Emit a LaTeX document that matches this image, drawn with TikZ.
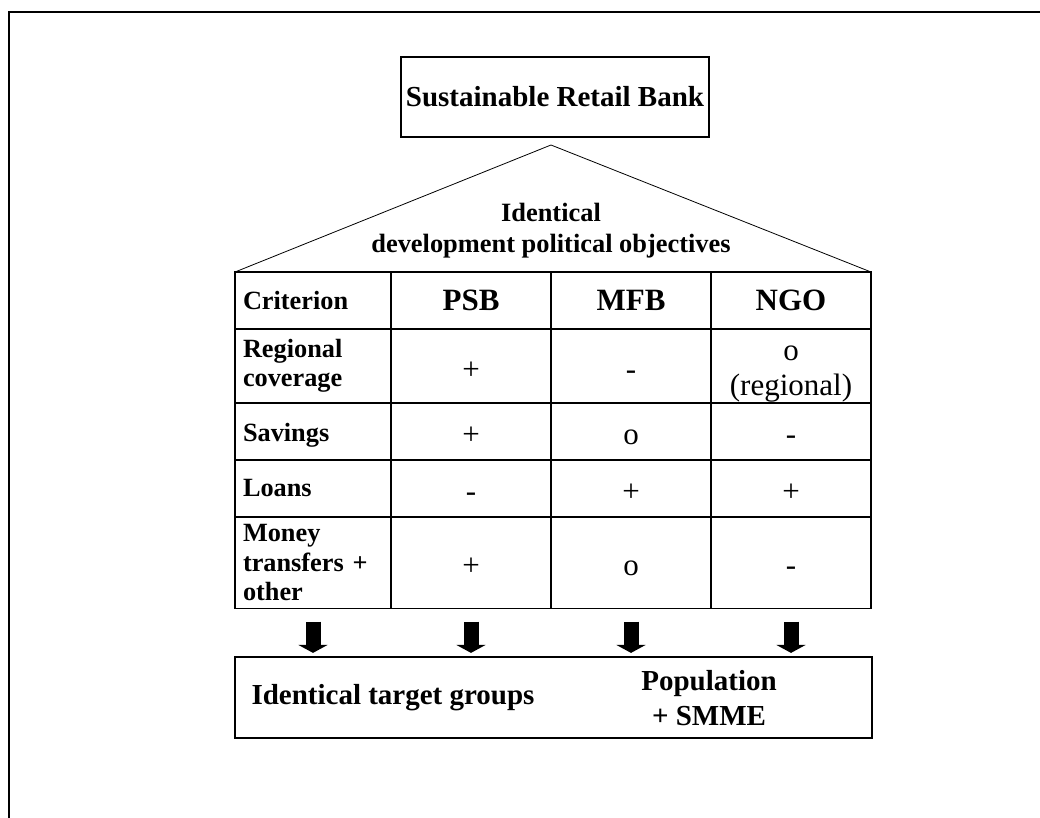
\documentclass[tikz,border=0pt]{standalone}
\usepackage{fontspec}
\setmainfont{Liberation Serif}
\usetikzlibrary{arrows.meta,positioning}

\begin{document}
\begin{tikzpicture}[x=1pt, y=-1pt, node distance=0pt,
  box/.style={draw, line width=1.2pt, inner sep=0pt},
  cell/.style={draw, line width=1.8pt, inner sep=0pt, outer sep=0pt, minimum width=160pt},
  labcell/.style={cell, minimum width=0pt, inner xsep=8pt, text width=140pt, align=left,
    font=\fontsize{26.3}{29.5}\selectfont\bfseries},
  headcell/.style={cell, font=\fontsize{31}{35}\selectfont\bfseries},
  valcell/.style={cell, align=center, font=\fontsize{31}{35}\selectfont,
    text height=28pt, text depth=2pt},
  downarrow/.style={-{Triangle[width=29pt, length=8pt]}, line width=15pt,
    shorten <=13pt, shorten >=3.5pt}]
  \useasboundingbox (0,0) rectangle (1040,818);
  \draw[line width=2pt] (9,818) -- (9,12) -- (1040,12);

  \node[box, minimum width=308pt, minimum height=80pt,
    font=\fontsize{29}{35}\selectfont\bfseries] (bank) at (555,97) {Sustainable Retail Bank};

  % table
  \node[labcell, minimum height=57pt, anchor=north west] (crit) at (235,272) {Criterion};
  \node[headcell, minimum height=57pt, right=of crit] (psb) {PSB};
  \node[headcell, minimum height=57pt, right=of psb] (mfb) {MFB};
  \node[headcell, minimum height=57pt, right=of mfb] (ngo) {NGO};

  \node[labcell, minimum height=74pt, below=of crit] (reg) {Regional\\coverage};
  \node[valcell, minimum height=74pt, right=of reg] (reg1) {+};
  \node[valcell, minimum height=74pt, right=of reg1] (reg2) {-};
  \node[valcell, minimum height=74pt, right=of reg2, text height=62pt, text depth=4pt] (reg3) {o\\(regional)};

  \node[labcell, minimum height=57pt, below=of reg, text height=22pt, text depth=2pt] (sav) {Savings};
  \node[valcell, minimum height=57pt, right=of sav] (sav1) {+};
  \node[valcell, minimum height=57pt, right=of sav1] (sav2) {o};
  \node[valcell, minimum height=57pt, right=of sav2] (sav3) {-};

  \node[labcell, minimum height=57pt, below=of sav] (loan) {Loans};
  \node[valcell, minimum height=57pt, right=of loan] (loan1) {-};
  \node[valcell, minimum height=57pt, right=of loan1] (loan2) {+};
  \node[valcell, minimum height=57pt, right=of loan2] (loan3) {+};

  \node[labcell, minimum height=91.5pt, below=of loan] (mon) {Money\\transfers +\\other};
  \node[valcell, minimum height=91.5pt, right=of mon] (mon1) {+};
  \node[valcell, minimum height=91.5pt, right=of mon1] (mon2) {o};
  \node[valcell, minimum height=91.5pt, right=of mon2] (mon3) {-};

  % roof
  \coordinate (apex) at (551,145);
  \draw[line width=0.8pt] (crit.north west) -- (apex) -- (ngo.north east);
  \node[font=\fontsize{26.4}{31}\selectfont\bfseries, align=center] (goal) at (551,231)
    {Identical\\development political objectives};

  % target groups
  \node[box, minimum width=637pt, minimum height=81pt] (target) at (553.5,697.5) {};
  \node[font=\fontsize{29}{35}\selectfont\bfseries] (tgroup) at (393,698) {Identical target groups};
  \node[font=\fontsize{29}{35}\selectfont\bfseries, align=center] (pop) at (709,698) {Population\\+ SMME};

  \draw[downarrow] (mon.south) -- (mon.south |- target.north);
  \draw[downarrow] (mon1.south) -- (mon1.south |- target.north);
  \draw[downarrow] (mon2.south) -- (mon2.south |- target.north);
  \draw[downarrow] (mon3.south) -- (mon3.south |- target.north);
\end{tikzpicture}
\end{document}
